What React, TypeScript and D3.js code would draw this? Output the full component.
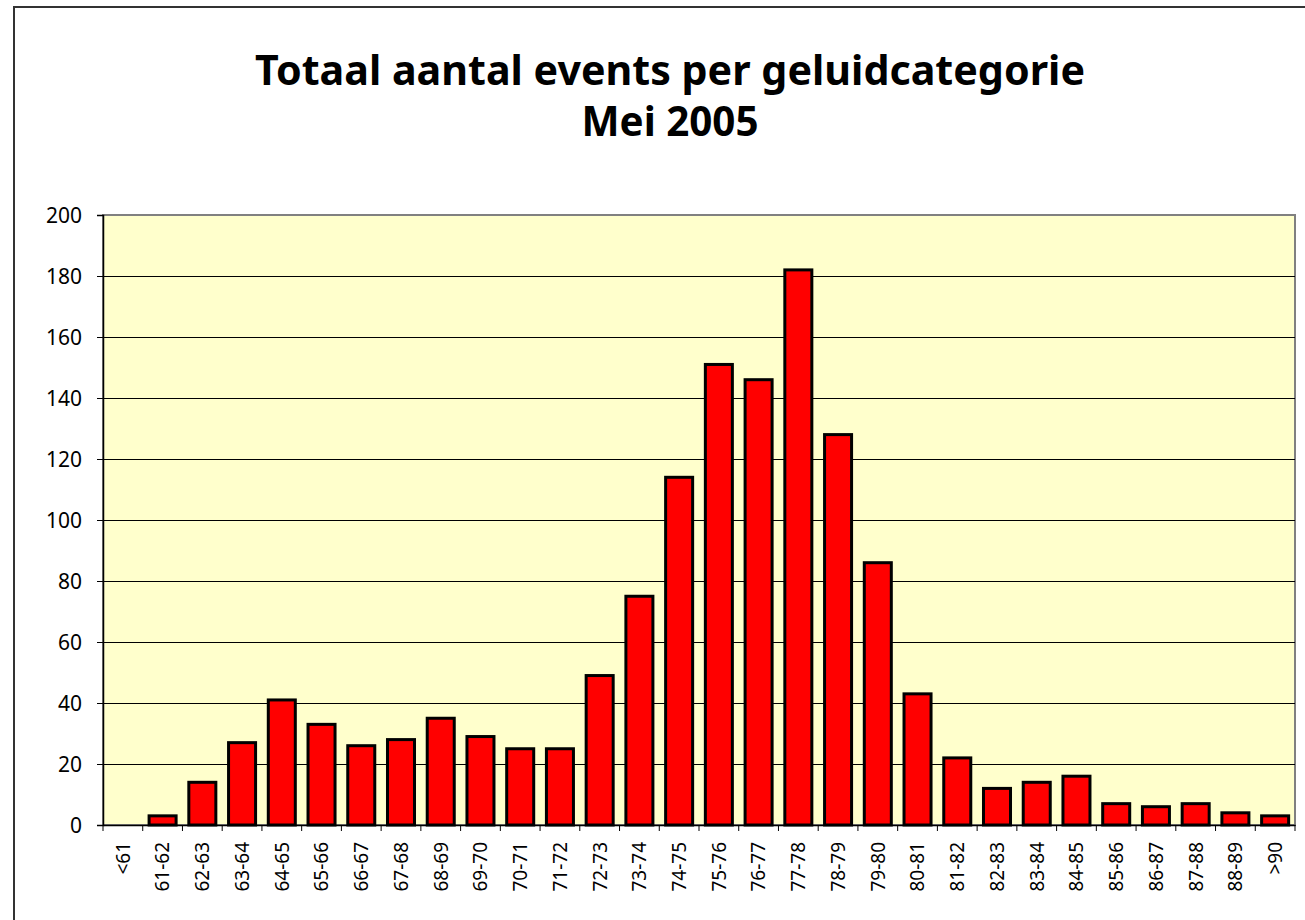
import React, { useEffect, useRef } from 'react'
import * as d3 from 'd3'

// categorieen (dB(A) klassen) en aantallen events
const categories = ['<61', '61-62', '62-63', '63-64', '64-65', '65-66', '66-67', '67-68', '68-69', '69-70',
  '70-71', '71-72', '72-73', '73-74', '74-75', '75-76', '76-77', '77-78', '78-79', '79-80',
  '80-81', '81-82', '82-83', '83-84', '84-85', '85-86', '86-87', '87-88', '88-89', '>90']
const counts = [0, 3, 14, 27, 41, 33, 26, 28, 35, 29,
  25, 25, 49, 75, 114, 151, 146, 182, 128, 86,
  43, 22, 12, 14, 16, 7, 6, 7, 4, 3]
const yTicks = [0, 20, 40, 60, 80, 100, 120, 140, 160, 180, 200]
const titleLines = ['Totaal aantal events per geluidcategorie', 'Mei 2005']
const titleWidths = [830, 177]

const W = 1305
const H = 920
const FONT = '"Noto Sans", "DejaVu Sans", sans-serif'

export default function App () {
  const ref = useRef<SVGSVGElement>(null)

  useEffect(() => {
    const svg = d3.select(ref.current)
    svg.selectAll('*').remove()

    const plot = { left: 103, top: 215, right: 1295, bottom: 825 }

    // x scale (band per categorie)
    const x = d3.scaleBand<string>()
      .domain(categories)
      .range([plot.left, plot.right])
      .paddingInner(0.32)
      .paddingOuter(0.16)

    // y scale (aantal)
    const y = d3.scaleLinear()
      .domain([0, 200])
      .range([plot.bottom, plot.top])

    const data = categories.map((c, i) => ({ cat: c, value: counts[i] }))

    // achtergrond en buitenrand
    svg.append('rect').attr('x', 0).attr('y', 0).attr('width', W).attr('height', H).attr('fill', '#fff')
    svg.append('rect')
      .attr('x', 14).attr('y', 7).attr('width', W + 20).attr('height', H + 20)
      .attr('fill', 'none').attr('stroke', '#333').attr('stroke-width', 2)

    // titel, twee regels
    svg.append('g')
      .selectAll('text')
      .data(titleLines)
      .enter()
      .append('text')
      .attr('x', 670)
      .attr('y', (d, i) => 85 + i * 51)
      .attr('text-anchor', 'middle')
      .attr('textLength', (d, i) => titleWidths[i])
      .attr('lengthAdjust', 'spacingAndGlyphs')
      .style('font-family', FONT).style('font-weight', 'bold').style('font-size', '41px')
      .text(d => d)

    // plotgebied
    svg.append('rect')
      .attr('x', plot.left).attr('y', plot.top)
      .attr('width', plot.right - plot.left).attr('height', plot.bottom - plot.top)
      .attr('fill', '#FFFFCC').attr('stroke', '#808080').attr('stroke-width', 2)

    // rasterlijnen
    svg.append('g')
      .selectAll('line')
      .data(yTicks.filter(t => t > 0 && t < 200))
      .enter()
      .append('line')
      .attr('x1', plot.left).attr('x2', plot.right)
      .attr('y1', d => Math.round(y(d)) + 0.5).attr('y2', d => Math.round(y(d)) + 0.5)
      .attr('stroke', '#000').attr('stroke-width', 1)

    // staven
    svg.append('g')
      .selectAll('rect')
      .data(data.filter(d => d.value > 0))
      .enter()
      .append('rect')
      .attr('x', d => x(d.cat) as number)
      .attr('y', d => y(d.value))
      .attr('width', x.bandwidth())
      .attr('height', d => plot.bottom - y(d.value))
      .attr('fill', '#FF0000').attr('stroke', '#000').attr('stroke-width', 3)

    // y-as
    const yAxis = d3.axisLeft(y).tickValues(yTicks).tickSize(6).tickPadding(15)
    const gy = svg.append('g')
      .attr('transform', `translate(${plot.left},0)`)
      .call(yAxis)
    gy.select('.domain').attr('stroke', '#000').attr('stroke-width', 1.5)
    gy.selectAll('.tick line').attr('stroke', '#000')
    gy.selectAll('.tick text')
      .attr('dy', '0.36em')
      .style('font-family', FONT).style('font-size', '21px').attr('fill', '#000')

    // x-as
    const xAxis = d3.axisBottom(x).tickSize(0)
    const gx = svg.append('g')
      .attr('transform', `translate(0,${plot.bottom})`)
      .call(xAxis)
    gx.select('.domain').attr('stroke', '#000').attr('stroke-width', 1.5)
    gx.selectAll('.tick text')
      .attr('transform', 'rotate(-90)')
      .attr('x', -17).attr('y', 0).attr('dy', '0.36em')
      .attr('text-anchor', 'end')
      .style('font-family', FONT).style('font-size', '19px').attr('fill', '#000')

    // streepjes tussen de categorieen
    const step = x.step()
    svg.append('g')
      .selectAll('line')
      .data(d3.range(categories.length + 1))
      .enter()
      .append('line')
      .attr('x1', i => plot.left + i * step).attr('x2', i => plot.left + i * step)
      .attr('y1', plot.bottom).attr('y2', plot.bottom + 6)
      .attr('stroke', '#000').attr('stroke-width', 1)
  }, [])

  return (
    <svg ref={ref} width={W} height={H} style={{ position: 'absolute', left: 0, top: 0 }} />
  )
}
